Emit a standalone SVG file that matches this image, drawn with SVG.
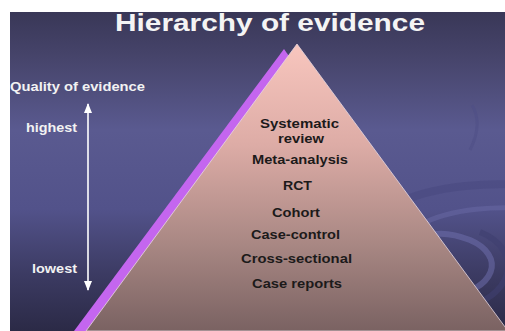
<svg xmlns="http://www.w3.org/2000/svg" width="505" height="331" viewBox="0 0 505 331">
  <defs>
    <linearGradient id="bg" x1="0" y1="12" x2="0" y2="331" gradientUnits="userSpaceOnUse">
      <stop offset="0" stop-color="#393757"/>
      <stop offset="0.15" stop-color="#47456c"/>
      <stop offset="0.37" stop-color="#5a5a90"/>
      <stop offset="0.62" stop-color="#52528a"/>
      <stop offset="0.82" stop-color="#3c3b63"/>
      <stop offset="1" stop-color="#2b2a46"/>
    </linearGradient>
    <linearGradient id="pink" x1="0" y1="44" x2="0" y2="331" gradientUnits="userSpaceOnUse">
      <stop offset="0" stop-color="#f8c6be"/>
      <stop offset="0.35" stop-color="#ddaca6"/>
      <stop offset="0.7" stop-color="#a88783"/>
      <stop offset="1" stop-color="#7a6262"/>
    </linearGradient>
    <clipPath id="slide"><rect x="10" y="12" width="495" height="319"/></clipPath>
    <marker id="ah" viewBox="0 0 10 8" refX="9" refY="4" markerWidth="10" markerHeight="8" markerUnits="userSpaceOnUse" orient="auto-start-reverse">
      <path d="M0,0 L10,4 L0,8 Z" fill="#ffffff"/>
    </marker>
    <style>
      .lbl { font-family: "Liberation Sans", Arial, sans-serif; font-weight: bold; font-size: 12px; }
      .light { fill: #f2f2f2; }
      .dark { fill: #1c1a1a; }
      .title { font-family: "Liberation Sans", Arial, sans-serif; font-weight: bold; font-size: 24.5px; fill: #f4f4f4; }
    </style>
  </defs>

  <rect x="0" y="0" width="505" height="331" fill="#ffffff"/>

  <g id="background" clip-path="url(#slide)">
    <rect x="10" y="12" width="495" height="319" fill="url(#bg)"/>
    <path d="M395,205 C430,185 500,180 540,188" fill="none" stroke="#4a4a80" stroke-width="8" opacity="0.6"/>
    <path d="M420,225 C450,208 500,205 540,210" fill="none" stroke="#6a6aa6" stroke-width="5" opacity="0.5"/>
    <path d="M440,300 C500,290 505,255 470,240 C440,228 420,235 415,245" fill="none" stroke="#6d6dab" stroke-width="6" opacity="0.55"/>
    <path d="M455,310 C515,300 525,250 480,232" fill="none" stroke="#3f3f70" stroke-width="6" opacity="0.6"/>
    <path d="M470,150 C480,130 478,115 472,105" fill="none" stroke="#4e4e85" stroke-width="3" opacity="0.5"/>
  </g>

  <g id="title">
    <text class="title" x="115" y="31" textLength="310" lengthAdjust="spacingAndGlyphs">Hierarchy of evidence</text>
  </g>

  <g id="pyramid" clip-path="url(#slide)">
    <polygon points="284,49 74,331 480,331" fill="#c466ef"/>
    <polygon points="297,44 86,331 508,331" fill="url(#pink)" stroke="#e8d8e0" stroke-width="0.8"/>
  </g>

  <g id="connectors">
    <line x1="88" y1="104" x2="88" y2="290" stroke="#ffffff" stroke-width="1.6" marker-start="url(#ah)" marker-end="url(#ah)"/>
  </g>

  <g id="quality-label">
    <text class="lbl light" x="10" y="91" textLength="135" lengthAdjust="spacingAndGlyphs">Quality of evidence</text>
  </g>
  <g id="highest-label">
    <text class="lbl light" x="26" y="132" textLength="51" lengthAdjust="spacingAndGlyphs">highest</text>
  </g>
  <g id="lowest-label">
    <text class="lbl light" x="32" y="273" textLength="45" lengthAdjust="spacingAndGlyphs">lowest</text>
  </g>

  <g id="systematic-review">
    <text class="lbl dark" x="260" y="128" textLength="79" lengthAdjust="spacingAndGlyphs">Systematic</text>
    <text class="lbl dark" x="278" y="143" textLength="46" lengthAdjust="spacingAndGlyphs">review</text>
  </g>
  <g id="meta-analysis">
    <text class="lbl dark" x="252" y="164" textLength="96" lengthAdjust="spacingAndGlyphs">Meta-analysis</text>
  </g>
  <g id="rct">
    <text class="lbl dark" x="283" y="190" textLength="29" lengthAdjust="spacingAndGlyphs">RCT</text>
  </g>
  <g id="cohort">
    <text class="lbl dark" x="272" y="217" textLength="48" lengthAdjust="spacingAndGlyphs">Cohort</text>
  </g>
  <g id="case-control">
    <text class="lbl dark" x="251" y="239" textLength="89" lengthAdjust="spacingAndGlyphs">Case-control</text>
  </g>
  <g id="cross-sectional">
    <text class="lbl dark" x="241" y="263" textLength="111" lengthAdjust="spacingAndGlyphs">Cross-sectional</text>
  </g>
  <g id="case-reports">
    <text class="lbl dark" x="252" y="288" textLength="90" lengthAdjust="spacingAndGlyphs">Case reports</text>
  </g>
</svg>
